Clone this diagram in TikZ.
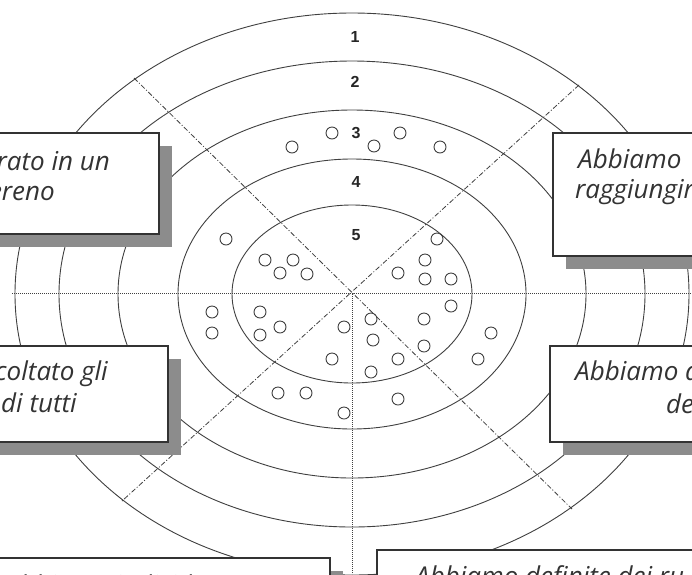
\documentclass[tikz,border=0pt]{standalone}
\usepackage{fontspec}
\setmainfont{Open Sans}[Ligatures=NoCommon]
\newfontfamily\numfont{Liberation Sans}
\definecolor{ln}{HTML}{404040}
\definecolor{shd}{HTML}{8C8C8C}
\tikzset{
  ring/.style={draw=ln, line width=0.9pt},
  hdot/.style={draw=ln, line width=0.8pt, dash pattern=on 0.9pt off 1.1pt},
  diag/.style={draw=ln, line width=0.8pt, dash pattern=on 5pt off 2pt on 1pt off 2pt},
  pt/.style={draw=ln, line width=0.9pt},
  numlbl/.style={font=\numfont\bfseries\fontsize{16}{18}\selectfont, text=black!85, inner sep=0pt},
  boxbody/.style={draw=black!80, fill=white, line width=1.2pt, rectangle, inner sep=0pt},
  boxshade/.style={fill=shd, rectangle, inner sep=0pt},
  txt/.style={font=\itshape\fontsize{26}{30}\selectfont, text=black!80, inner sep=0pt}
}
\begin{document}
\begin{tikzpicture}[x=1pt,y=-1pt]
\useasboundingbox (0,0) rectangle (692,574);
\clip (0,0) rectangle (692,574);
\fill[white] (0,0) rectangle (692,574);
\coordinate (c) at (352,294);
% rings
\draw[ring] (c) ellipse [x radius=337pt, y radius=281pt];
\draw[ring] (c) ellipse [x radius=293pt, y radius=233pt];
\draw[ring] (c) ellipse [x radius=234pt, y radius=184pt];
\draw[ring] (c) ellipse [x radius=174pt, y radius=135pt];
\draw[ring] (c) ellipse [x radius=120pt, y radius=89pt];
% axes
\coordinate (hl) at (12,293);
\coordinate (hr) at (692,293);
\coordinate (vb) at (352,574);
\coordinate (ul) at (134,78);
\coordinate (lr) at (572,509);
\coordinate (ur) at (579,85);
\coordinate (ll) at (122,501);
\draw[hdot] (hl) -- (hr);
\draw[hdot] (c) -- (vb);
\draw[diag] (ul) -- (lr);
\draw[diag] (ur) -- (ll);
% labels
\node[numlbl] (n1) at (355,37) {1};
\node[numlbl] (n2) at (355,82) {2};
\node[numlbl] (n3) at (356,133) {3};
\node[numlbl] (n4) at (356,182) {4};
\node[numlbl] (n5) at (356,235) {5};
% small circles
\foreach \p in {(292,147),(332,133),(374,146),(400,133),(440,147),
  (226,239),(265,260),(293,260),(280,273),(307,274),
  (437,239),(425,260),(398,273),(425,279),(451,279),
  (212,312),(212,333),(260,312),(260,335),(280,327),
  (344,327),(371,319),(373,340),(332,359),(371,372),(398,359),
  (424,319),(424,346),(451,306),(491,333),(478,359),
  (278,393),(306,393),(344,413),(398,399)}
  \draw[pt] \p circle [radius=6pt];
% boxes (shadow + body)
\node[boxshade, minimum width=459pt, minimum height=101pt] (s1) at (-57.5,196.5) {};
\node[boxbody, minimum width=459pt, minimum height=101pt] (b1) at (-70.5,183.5) {};
\node[boxshade, minimum width=347pt, minimum height=123pt] (s2) at (739.5,207.5) {};
\node[boxbody, minimum width=347pt, minimum height=123pt] (b2) at (726.5,194.5) {};
\node[boxshade, minimum width=468pt, minimum height=96pt] (s3) at (-53,407) {};
\node[boxbody, minimum width=468pt, minimum height=96pt] (b3) at (-66,394) {};
\node[boxshade, minimum width=350pt, minimum height=96pt] (s4) at (738,407) {};
\node[boxbody, minimum width=350pt, minimum height=96pt] (b4) at (725,394) {};
\node[boxshade, minimum width=630pt, minimum height=122pt] (s5) at (28,632) {};
\node[boxbody, minimum width=630pt, minimum height=122pt] (b5) at (15,619) {};
\node[boxshade, minimum width=523pt, minimum height=130pt] (s6) at (651.5,628) {};
\node[boxbody, minimum width=523pt, minimum height=130pt] (b6) at (638.5,615) {};
% texts
\node[txt, anchor=base east] (t1a) at (110,170) {rato in un};
\node[txt, anchor=base east] (t1b) at (55,200) {ereno};
\node[txt, anchor=base west] (t2a) at (578,168) {Abbiamo};
\node[txt, anchor=base west] (t2b) at (575,198) {raggiungir};
\node[txt, anchor=base east] (t3a) at (108,380) {coltato gli};
\node[txt, anchor=base east] (t3b) at (77,412) {di tutti};
\node[txt, anchor=base west] (t4a) at (575,380) {Abbiamo d};
\node[txt, anchor=base west] (t4b) at (666,413) {de};
\node[txt, anchor=base west] (t5a) at (5,594) {Abbiamo individuato};
\node[txt, anchor=base west] (t6a) at (415,585) {Abbiamo definite dei ru};
\end{tikzpicture}
\end{document}
